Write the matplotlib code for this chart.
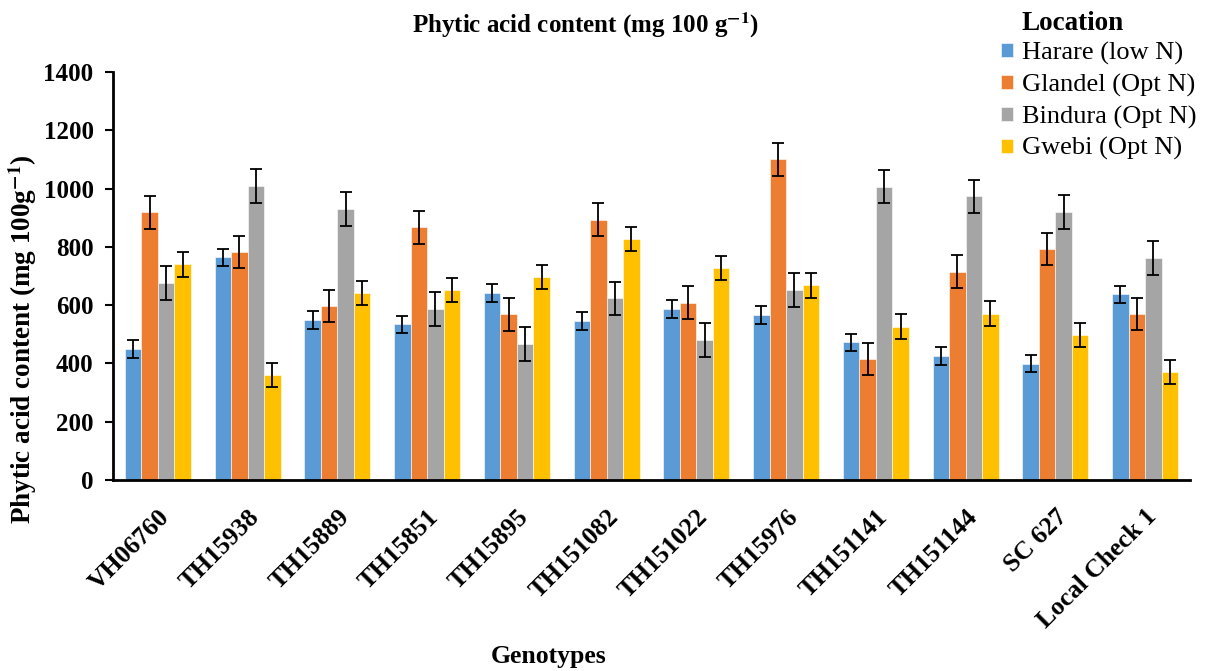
import numpy as np
import matplotlib
matplotlib.use("Agg")
from matplotlib import pyplot as plt

plt.rcParams['font.family'] = ['Liberation Serif', 'DejaVu Serif']
plt.rcParams['mathtext.fontset'] = 'stix'

genotypes = ["VH06760", "TH15938", "TH15889", "TH15851", "TH15895", "TH151082",
             "TH151022", "TH15976", "TH151141", "TH151144", "SC 627", "Local Check 1"]
locations = ["Harare (low N)", "Glandel (Opt N)", "Bindura (Opt N)", "Gwebi (Opt N)"]

harare = [449, 764, 549, 534, 641, 545, 586, 567, 472, 425, 399, 637]
glandel = [918, 783, 597, 867, 569, 893, 609, 1100, 415, 715, 793, 570]
bindura = [677, 1009, 929, 587, 468, 623, 480, 653, 1007, 973, 920, 761]
gwebi = [740, 360, 641, 652, 697, 827, 728, 668, 526, 571, 497, 371]
# error bar half-lengths (constant per location)
errors = [30, 56, 58, 42]

colors = ["#5B9BD5", "#ED7D31", "#A5A5A5", "#FFC000"]

fig = plt.figure(figsize=(12.05, 6.71), dpi=100)
ax = fig.add_axes([0.0938, 0.2846, 0.8938, 0.6081])

x = np.arange(len(genotypes))
w = 0.184
series = [harare, glandel, bindura, gwebi]
for i, vals in enumerate(series):
    ax.bar(x + (i - 1.5) * w, vals, w, color=colors[i], label=locations[i],
           edgecolor="white", linewidth=0.4,
           yerr=errors[i], capsize=4.3, error_kw=dict(ecolor="black", elinewidth=1.3, capthick=1.3))

ax.set_xlim(-0.5, len(genotypes) - 0.5)
ax.set_ylim(0, 1400)
ax.set_yticks(range(0, 1401, 200))
ax.spines['top'].set_visible(False)
ax.spines['right'].set_visible(False)
ax.spines['left'].set_linewidth(2)
ax.spines['bottom'].set_linewidth(2)
ax.tick_params(axis='y', length=6, width=1.5, labelsize=18, pad=8)
ax.tick_params(axis='x', length=0, pad=18)
for t in ax.get_yticklabels():
    t.set_fontweight('bold')

ax.set_xticks(x)
ax.set_xticklabels(genotypes, rotation=45, ha='right', rotation_mode='anchor',
                   fontsize=18.5, fontweight='bold')

# axis titles placed like the original (y title sits lower than axis centre)
fig.text(0.019, 0.495, "Phytic acid content (mg 100g$^{\\mathbf{-1}}$)", rotation=90,
         ha='center', va='center', fontsize=19.5, fontweight='bold')
fig.text(0.486, 0.962, "Phytic acid content (mg 100 g$^{\\mathbf{-1}}$)", ha='center', va='center',
         fontsize=18, fontweight='bold')
fig.text(0.455, 0.021, "Genotypes", ha='center', va='center', fontsize=18.5, fontweight='bold')

fig.text(0.890, 0.965, "Location", ha='center', va='center', fontsize=19.5, fontweight='bold')
leg = fig.legend(loc='upper left', bbox_to_anchor=(1001 / 1205, 1 - 42 / 671), frameon=False,
                 fontsize=19, handlelength=0.45, handleheight=0.45, handletextpad=0.35,
                 labelspacing=0.33, borderaxespad=0, borderpad=0)

fig.savefig("out.png", dpi=100)
